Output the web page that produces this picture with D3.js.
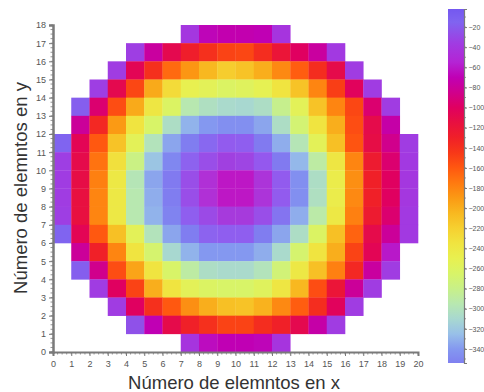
<!DOCTYPE html>
<html>
<head>
<meta charset="utf-8">
<script src="https://cdn.jsdelivr.net/npm/d3@7"></script>
<style>
  html, body { margin: 0; padding: 0; background: #fff; }
  svg { display: block; }
</style>
</head>
<body>
<svg id="chart" width="484" height="392"></svg>
<script>
// ---- data (rows of cell values, x = 0..19; null = no cell) ----
const xTicks = [0,1,2,3,4,5,6,7,8,9,10,11,12,13,14,15,16,17,18,19,20];
const yTicks = [0,1,2,3,4,5,6,7,8,9,10,11,12,13,14,15,16,17,18];
const colorbarTicks = [-20,-40,-60,-80,-100,-120,-140,-160,-180,-200,-220,-240,-260,-280,-300,-320,-340];
const rowIndex = [17,16,15,14,13,12,11,10,9,8,7,6,5,4,3,2,1,0];
const _ = null;
const row17 = [_,_,_,_,_,_,_,-40,-68,-72,-72,-70,-42,_,_,_,_,_,_,_];
const row16 = [_,_,_,_,-35,-78,-108,-128,-140,-150,-152,-138,-120,-100,-78,-38,_,_,_,_];
const row15 = [_,_,_,-36,-105,-140,-168,-188,-205,-218,-212,-200,-182,-162,-138,-110,-36,_,_,_];
const row14 = [_,_,-35,-108,-152,-198,-228,-250,-255,-262,-258,-252,-235,-212,-180,-148,-102,-36,_,_];
const row13 = [_,-18,-95,-155,-198,-238,-262,-295,-303,-308,-310,-305,-282,-255,-212,-180,-152,-95,-36,_];
const row12 = [_,-80,-135,-190,-235,-265,-305,-330,-340,-345,-345,-335,-305,-270,-235,-200,-155,-110,-75,_];
const row11 = [-15,-105,-160,-212,-255,-300,-335,-355,-362,-370,-368,-356,-332,-298,-255,-210,-158,-112,-85,-36];
const row10 = [-35,-110,-172,-232,-278,-322,-350,-366,-376,-382,-380,-372,-356,-328,-290,-238,-180,-125,-95,-38];
const row9  = [-36,-112,-178,-240,-298,-335,-356,-376,-390,-398,-398,-388,-370,-345,-305,-245,-185,-130,-100,-40];
const row8  = [-36,-115,-180,-240,-295,-332,-355,-376,-390,-398,-398,-388,-370,-345,-303,-245,-182,-130,-100,-40];
const row7  = [-35,-115,-180,-240,-295,-330,-352,-368,-378,-385,-385,-376,-358,-332,-292,-240,-178,-125,-95,-38];
const row6  = [-15,-105,-160,-210,-255,-300,-335,-355,-365,-368,-368,-355,-335,-305,-262,-210,-165,-110,-80,-38];
const row5  = [_,-80,-130,-180,-235,-268,-310,-330,-340,-340,-340,-332,-308,-268,-235,-200,-150,-105,-60,_];
const row4  = [_,-18,-85,-155,-195,-235,-265,-290,-305,-308,-308,-300,-272,-240,-210,-178,-135,-78,-36,_];
const row3  = [_,_,-36,-100,-150,-200,-235,-255,-262,-265,-265,-258,-238,-205,-155,-120,-80,-36,_,_];
const row2  = [_,_,_,-36,-100,-140,-160,-185,-200,-210,-212,-202,-182,-162,-138,-102,-36,_,_,_];
const row1  = [_,_,_,_,-25,-70,-110,-130,-140,-150,-150,-138,-130,-108,-75,-36,_,_,_,_];
const row0  = [_,_,_,_,_,_,_,-42,-65,-70,-70,-68,-42,_,_,_,_,_,_,_];
const rows = [row17,row16,row15,row14,row13,row12,row11,row10,row9,row8,row7,row6,row5,row4,row3,row2,row1,row0];

// ---- colour map ----
const stopValues = [-2,-15,-36,-55,-70,-85,-100,-115,-130,-145,-160,-175,-190,-205,-220,-235,-250,-265,-280,-295,-310,-325,-340,-354,-362,-372,-382,-392,-400];
const stopColors = ["#7458f0","#8064f0","#a03ce2","#b424d4","#c000b4","#d0008c","#e00060","#e81040","#f02028","#f83818","#ff5810","#ff7a10","#fb9a14","#f8b820","#f6d030","#f0e440","#e8f050","#d8f468","#c8f088","#b8e8b0","#a8d8d0","#98c0e8","#8498f0","#7f80f0","#8868f0","#9458ee","#a040e0","#b42cd4","#c010c0"];
const color = d3.scaleLinear().domain(stopValues).range(stopColors).clamp(true);

const svg = d3.select("#chart");
svg.append("rect").attr("width", 484).attr("height", 392).attr("fill", "#fff");

const x = d3.scaleLinear().domain([0, 20]).range([53, 418]);
const y = d3.scaleLinear().domain([0, 18]).range([352, 25]);

// cells
const cells = [];
rows.forEach((r, ri) => r.forEach((v, ci) => { if (v !== null) cells.push({ cx: ci, cy: rowIndex[ri], v }); }));
svg.append("g").selectAll("rect").data(cells).join("rect")
  .attr("x", d => x(d.cx))
  .attr("y", d => y(d.cy + 1))
  .attr("width", d => x(d.cx + 1) - x(d.cx) + 0.3)
  .attr("height", d => y(d.cy) - y(d.cy + 1) + 0.3)
  .attr("fill", d => color(d.v));

// axes
const axisColor = "#7a7a7a";
const labelColor = "#555";
const minorX = d3.range(0, 20.001, 0.25);
const minorY = d3.range(0, 18.001, 0.25);

const gx = svg.append("g").attr("transform", `translate(0,${y(0)})`);
gx.selectAll("line.minor").data(minorX).join("line").attr("class", "minor")
  .attr("x1", d => x(d)).attr("x2", d => x(d)).attr("y1", 0).attr("y2", 2.5)
  .attr("stroke", axisColor).attr("stroke-width", 0.8);
gx.call(d3.axisBottom(x).tickValues(xTicks).tickSize(4).tickPadding(5).tickFormat(d3.format("d")));
gx.select(".domain").attr("stroke", axisColor).attr("stroke-width", 2);
gx.selectAll(".tick line").attr("stroke", axisColor).attr("stroke-width", 1);
gx.selectAll(".tick text").attr("fill", labelColor).attr("font-size", 9).attr("font-family", "Liberation Sans, Arial, sans-serif");

const gy = svg.append("g").attr("transform", `translate(${x(0)},0)`);
gy.selectAll("line.minor").data(minorY).join("line").attr("class", "minor")
  .attr("y1", d => y(d)).attr("y2", d => y(d)).attr("x1", 0).attr("x2", -2.5)
  .attr("stroke", axisColor).attr("stroke-width", 0.8);
gy.call(d3.axisLeft(y).tickValues(yTicks).tickSize(4).tickPadding(3).tickFormat(d3.format("d")));
gy.select(".domain").attr("stroke", axisColor).attr("stroke-width", 2.5);
gy.selectAll(".tick line").attr("stroke", axisColor).attr("stroke-width", 1);
gy.selectAll(".tick text").attr("fill", labelColor).attr("font-size", 9).attr("font-family", "Liberation Sans, Arial, sans-serif");

// axis titles
svg.append("text").attr("x", 234).attr("y", 389).attr("text-anchor", "middle")
  .attr("font-family", "Liberation Sans, Arial, sans-serif").attr("font-size", 18.5).attr("fill", "#333")
  .text("Número de elemntos en x");
svg.append("text").attr("transform", "translate(27,188) rotate(-90)").attr("text-anchor", "middle")
  .attr("font-family", "Liberation Sans, Arial, sans-serif").attr("font-size", 18.5).attr("fill", "#333")
  .text("Número de elemntos en y");

// colour bar
const cbTop = -2, cbBottom = -354;
const cb = d3.scaleLinear().domain([cbTop, cbBottom]).range([9, 363]);
const defs = svg.append("defs");
const grad = defs.append("linearGradient").attr("id", "cbgrad").attr("x1", 0).attr("x2", 0).attr("y1", 0).attr("y2", 1);
stopValues.filter(v => v >= cbBottom).forEach((v, i) => {
  grad.append("stop").attr("offset", (v - cbTop) / (cbBottom - cbTop)).attr("stop-color", color(v));
});
grad.append("stop").attr("offset", 1).attr("stop-color", color(cbBottom));
svg.append("rect").attr("x", 448).attr("y", cb(cbTop)).attr("width", 16).attr("height", cb(cbBottom) - cb(cbTop))
  .attr("fill", "url(#cbgrad)");

const gc = svg.append("g").attr("transform", "translate(464,0)");
gc.selectAll("line.minor").data(d3.range(-10, -351, -10)).join("line").attr("class", "minor")
  .attr("x1", 0).attr("x2", 2).attr("y1", d => cb(d)).attr("y2", d => cb(d))
  .attr("stroke", axisColor).attr("stroke-width", 0.8);
gc.call(d3.axisRight(cb).tickValues(colorbarTicks).tickSize(3).tickPadding(1.5).tickFormat(d3.format("d")));
gc.select(".domain").attr("stroke", axisColor).attr("stroke-width", 1.2);
gc.selectAll(".tick line").attr("stroke", axisColor).attr("stroke-width", 1);
gc.selectAll(".tick text").attr("fill", labelColor).attr("font-size", 7).attr("font-family", "Liberation Sans, Arial, sans-serif");
</script>
</body>
</html>
